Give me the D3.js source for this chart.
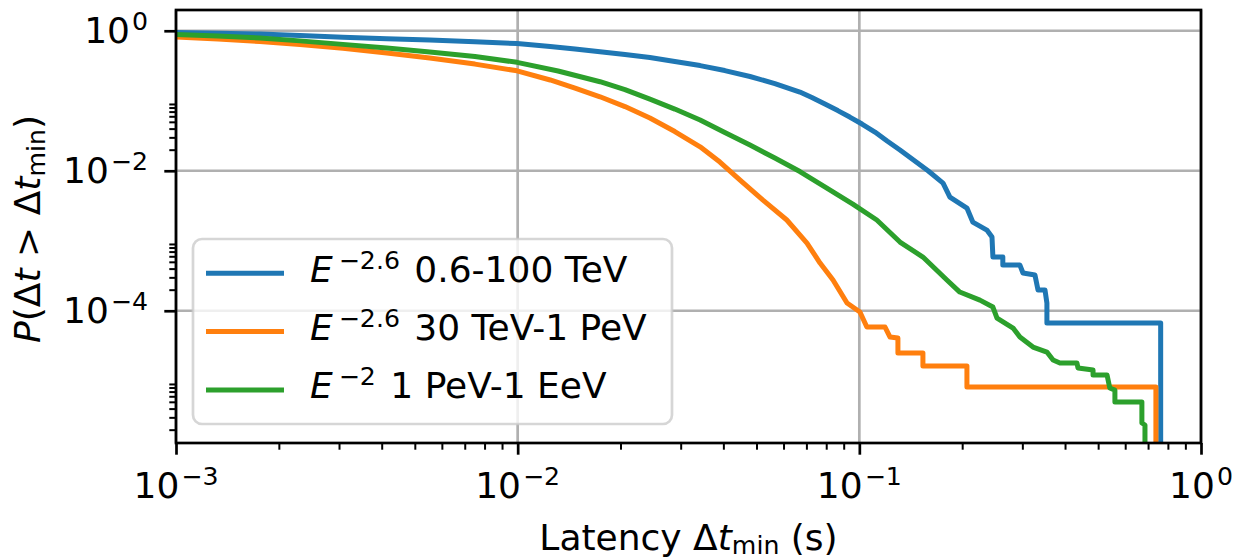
<!doctype html>
<html lang="en">
<head>
<meta charset="utf-8">
<title>Latency survival probability</title>
<style>
 body { margin: 0; background: #fff; }
 text { font-family: "DejaVu Sans", sans-serif; fill: #000; white-space: pre; }
</style>
</head>
<body>
<svg id="chart" width="1233" height="560" xmlns="http://www.w3.org/2000/svg"></svg>
<script src="https://cdn.jsdelivr.net/npm/d3@7"></script>
<script>
// latency threshold (s) and P(dt > dt_min)
var blueX = [0.001, 0.001327, 0.00176, 0.002307, 0.00308, 0.00414, 0.00553, 0.0075, 0.00996, 0.01245,
             0.01472, 0.01742, 0.02061, 0.02438, 0.02884, 0.0342, 0.04039, 0.04786, 0.05659, 0.06699,
             0.07262, 0.07931, 0.0865, 0.09376, 0.1018, 0.1111, 0.1206, 0.1315, 0.1589, 0.1758,
             0.1841, 0.2065, 0.2148, 0.2362, 0.2445, 0.246, 0.263, 0.263, 0.2951, 0.3013,
             0.3266, 0.3334, 0.3494, 0.354, 0.354, 0.762, 0.762];
var blueY = [0.9425, 0.921, 0.897, 0.854, 0.805, 0.771, 0.736, 0.699, 0.656, 0.595,
             0.548, 0.501, 0.457, 0.414, 0.363, 0.318, 0.270, 0.222, 0.176, 0.133,
             0.111, 0.0897, 0.0724, 0.0585, 0.0465, 0.0357, 0.0266, 0.0198, 0.01, 0.00667,
             0.00421, 0.00293, 0.00185, 0.00142, 0.00113, 0.000585, 0.000585, 0.00045, 0.00045, 0.000346,
             0.000324, 0.000198, 0.000198, 0.000129, 6.67e-5, 6.67e-5, 1e-7];

var orangeX = [0.001, 0.001327, 0.00176, 0.002307, 0.00308, 0.00414, 0.00553, 0.0075, 0.00996, 0.01245,
               0.01472, 0.01742, 0.02061, 0.02438, 0.02884, 0.0342, 0.03908, 0.04477, 0.05224, 0.06134,
               0.07027, 0.07674, 0.08375, 0.09204, 0.1004, 0.1052, 0.1189, 0.123, 0.1297, 0.1297,
               0.1535, 0.1535, 0.2065, 0.2065, 0.7379, 0.7379];
var orangeY = [0.813, 0.761, 0.701, 0.635, 0.561, 0.480, 0.407, 0.334, 0.268, 0.198,
               0.152, 0.114, 0.0826, 0.0566, 0.0363, 0.022, 0.0133, 0.00736, 0.00381, 0.00198,
               0.000927, 0.00048, 0.000275, 0.000129, 9.58e-5, 5.85e-5, 5.85e-5, 4.21e-5, 4.07e-5, 2.49e-5,
               2.49e-5, 1.62e-5, 1.62e-5, 8.13e-6, 8.13e-6, 1e-7];

var greenX = [0.001, 0.001327, 0.00176, 0.002307, 0.00308, 0.00414, 0.00553, 0.0075, 0.00996, 0.01313,
              0.01742, 0.02061, 0.02438, 0.02884, 0.0342, 0.04039, 0.04786, 0.05659, 0.06699, 0.08035,
              0.09572, 0.1125, 0.1315, 0.1535, 0.1804, 0.1968, 0.2254, 0.246, 0.2529, 0.2818,
              0.2951, 0.3223, 0.354, 0.369, 0.3864, 0.4335, 0.4365, 0.4831, 0.4831, 0.5309,
              0.5408, 0.5598, 0.5598, 0.6714, 0.6714, 0.6855, 0.6855];
var greenY = [0.882, 0.840, 0.787, 0.717, 0.639, 0.566, 0.496, 0.428, 0.354, 0.266,
              0.187, 0.1445, 0.1057, 0.0761, 0.053, 0.0351, 0.0233, 0.0152, 0.00975, 0.00566,
              0.00334, 0.00198, 0.000958, 0.000585, 0.000275, 0.000185, 0.000142, 0.000113, 7.87e-5, 5.66e-5,
              4.21e-5, 3.03e-5, 2.57e-5, 1.98e-5, 1.79e-5, 1.79e-5, 1.52e-5, 1.42e-5, 1.21e-5, 1.21e-5,
              7.87e-6, 7.36e-6, 4.97e-6, 4.97e-6, 2.49e-6, 2.33e-6, 1e-7];

// legend text: [base, exponent, rest]
var seriesLabels = [["E", "\u22122.6", " 0.6-100 TeV"],
                    ["E", "\u22122.6", " 30 TeV-1 PeV"],
                    ["E", "\u22122", " 1 PeV-1 EeV"]];
var seriesColors = ["#1f77b4", "#ff7f0e", "#2ca02c"];

var xLimits = [1e-3, 1];
var yLimits = [1.29e-6, 1.98];
var xMajor = [1e-3, 1e-2, 1e-1, 1];
var xMajorExp = ["\u22123", "\u22122", "\u22121", "0"];
var yMajor = [1, 1e-2, 1e-4];
var yMajorExp = ["0", "\u22122", "\u22124"];
var xMinorDecades = [1e-3, 1e-2, 1e-1];
var yMinorDecades = [1e-6, 1e-4, 1e-2];
var minorSubs = [2, 3, 4, 5, 6, 7, 8, 9];

var series = [
  {x: blueX, y: blueY},
  {x: orangeX, y: orangeY},
  {x: greenX, y: greenY}
];

var L = 176, R = 1201, T = 10, B = 443;
var svg = d3.select("#chart");

var x = d3.scaleLog().domain(xLimits).range([L, R]);
var y = d3.scaleLog().domain(yLimits).range([B, T]);

function inside(dom) {
  return function(v) { return v >= dom[0] * 0.9999 && v <= dom[1] * 1.0001; };
}
var xMinor = [], yMinor = [];
xMinorDecades.forEach(function(d) { minorSubs.forEach(function(s) { xMinor.push(s * d); }); });
yMinorDecades.forEach(function(d) { minorSubs.forEach(function(s) { yMinor.push(s * d); }); });
xMinor = xMinor.filter(inside(xLimits));
yMinor = yMinor.filter(inside(yLimits));

svg.append("defs").append("clipPath").attr("id", "plotclip")
   .append("rect").attr("x", L).attr("y", T).attr("width", R - L).attr("height", B - T);

// grid
var grid = svg.append("g").attr("stroke", "#b0b0b0").attr("stroke-width", 2.7);
grid.selectAll("line.gx").data(xMajor.filter(inside(xLimits))).enter().append("line")
    .attr("x1", function(d) { return x(d); }).attr("x2", function(d) { return x(d); })
    .attr("y1", T).attr("y2", B);
grid.selectAll("line.gy").data(yMajor.filter(inside(yLimits))).enter().append("line")
    .attr("y1", function(d) { return y(d); }).attr("y2", function(d) { return y(d); })
    .attr("x1", L).attr("x2", R);

// curves
var line = d3.line()
  .x(function(d) { return x(d[0]); })
  .y(function(d) { return y(d[1]); });

svg.append("g").attr("clip-path", "url(#plotclip)")
  .selectAll("path").data(series).enter().append("path")
  .attr("d", function(s) { return line(d3.zip(s.x, s.y)); })
  .attr("fill", "none")
  .attr("stroke", function(s, i) { return seriesColors[i]; })
  .attr("stroke-width", 5)
  .attr("stroke-linejoin", "round");

// axes ticks
function tickAxis(axis, g) {
  g.call(axis);
  g.select(".domain").remove();
  g.selectAll(".tick line").attr("stroke", "#000");
}
var gx = svg.append("g").attr("transform", "translate(0," + B + ")");
tickAxis(d3.axisBottom(x).tickValues(xMinor).tickSize(6.7).tickFormat(""), gx.append("g"));
gx.selectAll(".tick line").attr("stroke-width", 2);
var gxM = gx.append("g");
tickAxis(d3.axisBottom(x).tickValues(xMajor).tickSize(11.7).tickFormat(""), gxM);
gxM.selectAll(".tick line").attr("stroke-width", 2.7);

var gy = svg.append("g").attr("transform", "translate(" + L + ",0)");
tickAxis(d3.axisLeft(y).tickValues(yMinor).tickSize(6.7).tickFormat(""), gy.append("g"));
gy.selectAll(".tick line").attr("stroke-width", 2);
var gyM = gy.append("g");
tickAxis(d3.axisLeft(y).tickValues(yMajor).tickSize(11.7).tickFormat(""), gyM);
gyM.selectAll(".tick line").attr("stroke-width", 2.7);

// spines
svg.append("rect").attr("x", L).attr("y", T).attr("width", R - L).attr("height", B - T)
   .attr("fill", "none").attr("stroke", "#000").attr("stroke-width", 2.7);

function powLabel(t, exp) {
  t.append("tspan").text("10");
  t.append("tspan").attr("dx", 2).attr("dy", -13).style("font-size", "25.2px").text(exp);
}

xMajor.forEach(function(v, i) {
  var t = svg.append("text").attr("x", x(v)).attr("y", 498)
    .attr("text-anchor", "middle").style("font-size", "36px");
  powLabel(t, xMajorExp[i]);
});
yMajor.forEach(function(v, i) {
  var t = svg.append("text").attr("x", 148).attr("y", y(v) + 12.5)
    .attr("text-anchor", "end").style("font-size", "36px");
  powLabel(t, yMajorExp[i]);
});

// axis labels
var xl = svg.append("text").attr("x", (L + R) / 2).attr("y", 550)
  .attr("text-anchor", "middle").style("font-size", "36px");
xl.append("tspan").text("Latency \u0394");
xl.append("tspan").style("font-style", "italic").text("t");
xl.append("tspan").attr("dy", 4).style("font-size", "25.2px").text("min");
xl.append("tspan").attr("dy", -4).text(" (s)");

var yl = svg.append("text").attr("transform", "translate(40,229) rotate(-90)")
  .attr("text-anchor", "middle").style("font-size", "36px");
yl.append("tspan").style("font-style", "italic").text("P");
yl.append("tspan").text("(\u0394");
yl.append("tspan").style("font-style", "italic").text("t");
yl.append("tspan").text(" > \u0394");
yl.append("tspan").style("font-style", "italic").text("t");
yl.append("tspan").attr("dy", 5).style("font-size", "25.2px").text("min");
yl.append("tspan").attr("dy", -5).text(")");

// legend
var lg = svg.append("g");
lg.append("rect").attr("x", 193).attr("y", 239).attr("width", 479).attr("height", 185)
  .attr("rx", 9).attr("fill", "#fff").attr("fill-opacity", 0.8)
  .attr("stroke", "#cccccc").attr("stroke-opacity", 0.8).attr("stroke-width", 2.7);
seriesLabels.forEach(function(lab, i) {
  var cy = 273.3 + i * 58.3;
  lg.append("line").attr("x1", 206).attr("x2", 284).attr("y1", cy).attr("y2", cy)
    .attr("stroke", seriesColors[i]).attr("stroke-width", 5);
  var t = lg.append("text").attr("x", 310).attr("y", cy + 8.5).style("font-size", "36px");
  t.append("tspan").style("font-style", "italic").text(lab[0]);
  t.append("tspan").attr("dx", 6).attr("dy", -13).style("font-size", "25.2px").text(lab[1]);
  t.append("tspan").attr("dx", 3).attr("dy", 13).text(lab[2]);
});
</script>
</body>
</html>
